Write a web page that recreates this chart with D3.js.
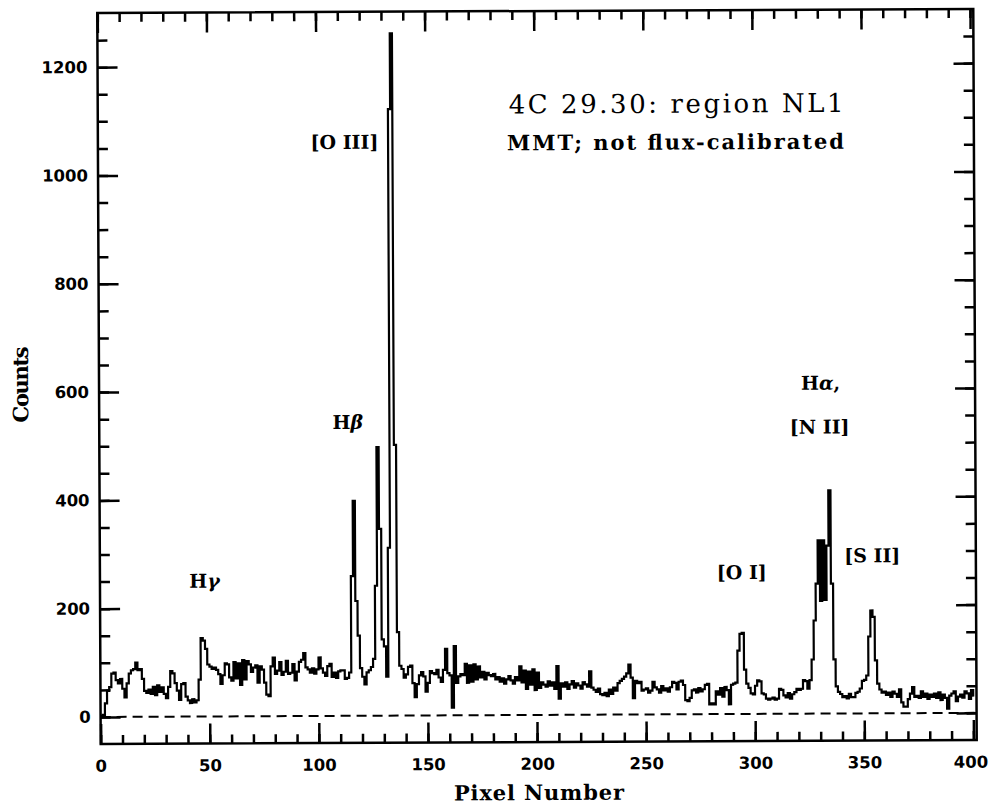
<!DOCTYPE html>
<html>
<head>
<meta charset="utf-8">
<script src="https://cdn.jsdelivr.net/npm/d3@7"></script>
<style>
  body { margin: 0; background: #fff; }
  .tick line { stroke: #000; stroke-width: 2.5px; }
  .ticklab text { font-family: "DejaVu Sans", sans-serif; font-weight: bold; font-size: 16.5px; fill: #000; }
  .lab { font-family: "DejaVu Serif", serif; fill: #000; }
</style>
</head>
<body>
<svg id="chart" width="989" height="805"></svg>
<script>
// counts per detector pixel, 0..400
var counts = [
  2, 4, 25, 48, 55, 80, 82, 68, 62, 70,
  52, 36, 62, 80, 86, 88, 100, 86, 88, 70,
  48, 44, 50, 42, 55, 40, 58, 46, 54, 42,
  34, 55, 84, 80, 62, 48, 31, 60, 62, 37,
  30, 25, 32, 26, 30, 68, 145, 140, 125, 96,
  92, 88, 90, 86, 78, 60, 76, 98, 96, 72,
  66, 100, 70, 98, 58, 104, 68, 102, 96, 82,
  90, 94, 62, 92, 86, 62, 40, 37, 92, 108,
  78, 84, 100, 76, 82, 102, 78, 80, 96, 66,
  82, 100, 104, 116, 90, 86, 80, 88, 78, 86,
  108, 88, 80, 74, 92, 96, 72, 80, 70, 82,
  84, 84, 68, 70, 80, 258, 397, 212, 148, 88,
  72, 58, 80, 84, 90, 105, 240, 496, 345, 141,
  128, 72, 310, 1120, 1260, 500, 154, 92, 86, 70,
  76, 90, 92, 60, 34, 58, 74, 80, 72, 44,
  60, 82, 78, 76, 84, 70, 62, 84, 123, 78,
  74, 14, 128, 60, 72, 76, 74, 95, 60, 92,
  62, 94, 66, 90, 70, 80, 66, 78, 74, 72,
  76, 66, 70, 62, 68, 58, 66, 72, 64, 58,
  70, 64, 90, 60, 82, 48, 80, 56, 84, 46,
  78, 50, 60, 56, 52, 62, 54, 60, 48, 90,
  30, 58, 52, 60, 48, 56, 62, 50, 58, 54,
  48, 60, 56, 52, 80, 50, 46, 42, 48, 38,
  36, 40, 34, 46, 38, 50, 44, 58, 62, 66,
  70, 76, 92, 68, 30, 62, 58, 60, 44, 46,
  48, 40, 44, 60, 50, 46, 40, 52, 44, 48,
  42, 50, 60, 58, 46, 60, 62, 54, 26, 24,
  30, 44, 46, 40, 48, 42, 46, 54, 56, 18,
  20, 18, 42, 36, 48, 32, 50, 44, 18, 54,
  56, 58, 117, 148, 150, 82, 56, 48, 38, 36,
  52, 62, 60, 38, 36, 28, 26, 28, 30, 26,
  28, 46, 44, 34, 30, 38, 28, 36, 40, 46,
  44, 46, 62, 60, 46, 62, 100, 172, 240, 320,
  208, 320, 210, 310, 412, 240, 100, 50, 40, 36,
  30, 32, 28, 36, 30, 30, 38, 40, 46, 60,
  62, 70, 142, 190, 178, 98, 55, 44, 38, 40,
  34, 38, 30, 40, 36, 30, 44, 20, 12, 12,
  26, 36, 48, 30, 32, 28, 40, 30, 36, 26,
  34, 30, 36, 28, 38, 24, 34, 28, 8, 32,
  36, 40, 22, 30, 34, 28, 40, 36, 26, 42,
  30
];

var xMajorTicks = [0, 50, 100, 150, 200, 250, 300, 350, 400];
var xMinorTicks = d3.range(0, 401, 10);
var yMajorTicks = [0, 200, 400, 600, 800, 1000, 1200];
var yMinorTicks = d3.range(0, 1251, 50);

// line identifications: pixel, counts of label baseline
var lineLabels = [
  {text: "[O III]", px: 113,   cnt: 1047},
  {text: "Hβ",      px: 113.9, cnt: 530},
  {text: "Hγ",      px: 47.9,  cnt: 238},
  {text: "[O I]",   px: 294.2, cnt: 249},
  {text: "Hα,",     px: 330.7, cnt: 598},
  {text: "[N II]",  px: 330.2, cnt: 517},
  {text: "[S II]",  px: 354,   cnt: 279}
];

var title = "4C 29.30: region NL1";
var subtitle = "MMT; not flux-calibrated";

var svg = d3.select("#chart");
var g = svg.append("g").attr("transform", "rotate(-0.27,537,378)");

var x = d3.scaleLinear().domain([0, 401.5]).range([99, 975]);
var y = d3.scaleLinear().domain([-50, 1300]).range([742, 11]);

/*************************************************************/
// ticks, all pointing inward

function tickAxis(axis, tr, cls){
  var a = g.append("g").attr("transform", tr).attr("class", cls).call(axis);
  a.select(".domain").remove();
  return a;
}

var xLab = tickAxis(d3.axisBottom(x).tickValues(xMajorTicks).tickSize(-20).tickPadding(16).tickFormat(d3.format("d")), "translate(0,742)", "ticklab");
// last label sits right at the page edge
xLab.selectAll(".tick text").filter(function(d){ return d === 400; }).attr("dx", -3);
tickAxis(d3.axisBottom(x).tickValues(xMinorTicks).tickSize(-9).tickFormat(""), "translate(0,742)", "");
tickAxis(d3.axisTop(x).tickValues(xMinorTicks).tickSize(-9).tickFormat(""), "translate(0,11)", "");
tickAxis(d3.axisTop(x).tickValues(xMajorTicks).tickSize(-20).tickFormat(""), "translate(0,11)", "");

tickAxis(d3.axisLeft(y).tickValues(yMinorTicks).tickSize(-10).tickFormat(""), "translate(99,0)", "");
tickAxis(d3.axisLeft(y).tickValues(yMajorTicks).tickSize(-20).tickPadding(10).tickFormat(d3.format("d")), "translate(99,0)", "ticklab");
tickAxis(d3.axisRight(y).tickValues(yMinorTicks).tickSize(-10).tickFormat(""), "translate(975,0)", "");
tickAxis(d3.axisRight(y).tickValues(yMajorTicks).tickSize(-20).tickFormat(""), "translate(975,0)", "");

/*************************************************************/
// zero level and spectrum (each pixel drawn as a bin [p, p+1])

g.append("line")
  .attr("x1", x(0)).attr("x2", x(401.5))
  .attr("y1", y(0)).attr("y2", y(0))
  .attr("stroke", "#000").attr("stroke-width", 2)
  .attr("stroke-dasharray", "10,6");

var spec = d3.line()
  .x(function(d, i){ return x(i); })
  .y(function(d){ return y(d); })
  .curve(d3.curveStepAfter);

g.append("path")
  .datum(counts)
  .attr("d", spec)
  .attr("fill", "none")
  .attr("stroke", "#000")
  .attr("stroke-width", 2.2)
  .attr("stroke-linejoin", "miter");

g.append("rect")
  .attr("x", 99).attr("y", 11)
  .attr("width", 876).attr("height", 731)
  .attr("fill", "none").attr("stroke", "#000").attr("stroke-width", 2.5);

/*************************************************************/
// texts

g.append("text").attr("class", "lab")
  .attr("x", x(200.75)).attr("y", 800)
  .attr("text-anchor", "middle").style("font-size", "21px").style("font-weight", "bold")
  .attr("textLength", 170).attr("lengthAdjust", "spacing")
  .text("Pixel Number");

g.append("text").attr("class", "lab")
  .attr("transform", "translate(28,382) rotate(-90)")
  .attr("text-anchor", "middle").style("font-size", "21px").style("font-weight", "bold")
  .attr("textLength", 76).attr("lengthAdjust", "spacing")
  .text("Counts");

g.append("text").attr("class", "lab")
  .attr("x", x(265.1)).attr("y", y(1111))
  .attr("text-anchor", "middle").style("font-size", "26px").style("font-weight", "normal")
  .attr("textLength", 335).attr("lengthAdjust", "spacing")
  .text(title);

g.append("text").attr("class", "lab")
  .attr("x", x(264.7)).attr("y", y(1043))
  .attr("text-anchor", "middle").style("font-size", "21px").style("font-weight", "bold")
  .attr("textLength", 337).attr("lengthAdjust", "spacing")
  .text(subtitle);

var labs = g.selectAll(".linelab").data(lineLabels).enter()
  .append("text").attr("class", "lab linelab")
  .attr("x", function(d){ return x(d.px); })
  .attr("y", function(d){ return y(d.cnt); })
  .attr("text-anchor", "middle")
  .style("font-size", "19px").style("font-weight", "bold");

labs.each(function(d){
  var t = d3.select(this);
  d.text.split("").forEach(function(c){
    var s = t.append("tspan").text(c);
    if (/[α-ω]/.test(c)) s.attr("font-style", "italic");
  });
});
</script>
</body>
</html>
